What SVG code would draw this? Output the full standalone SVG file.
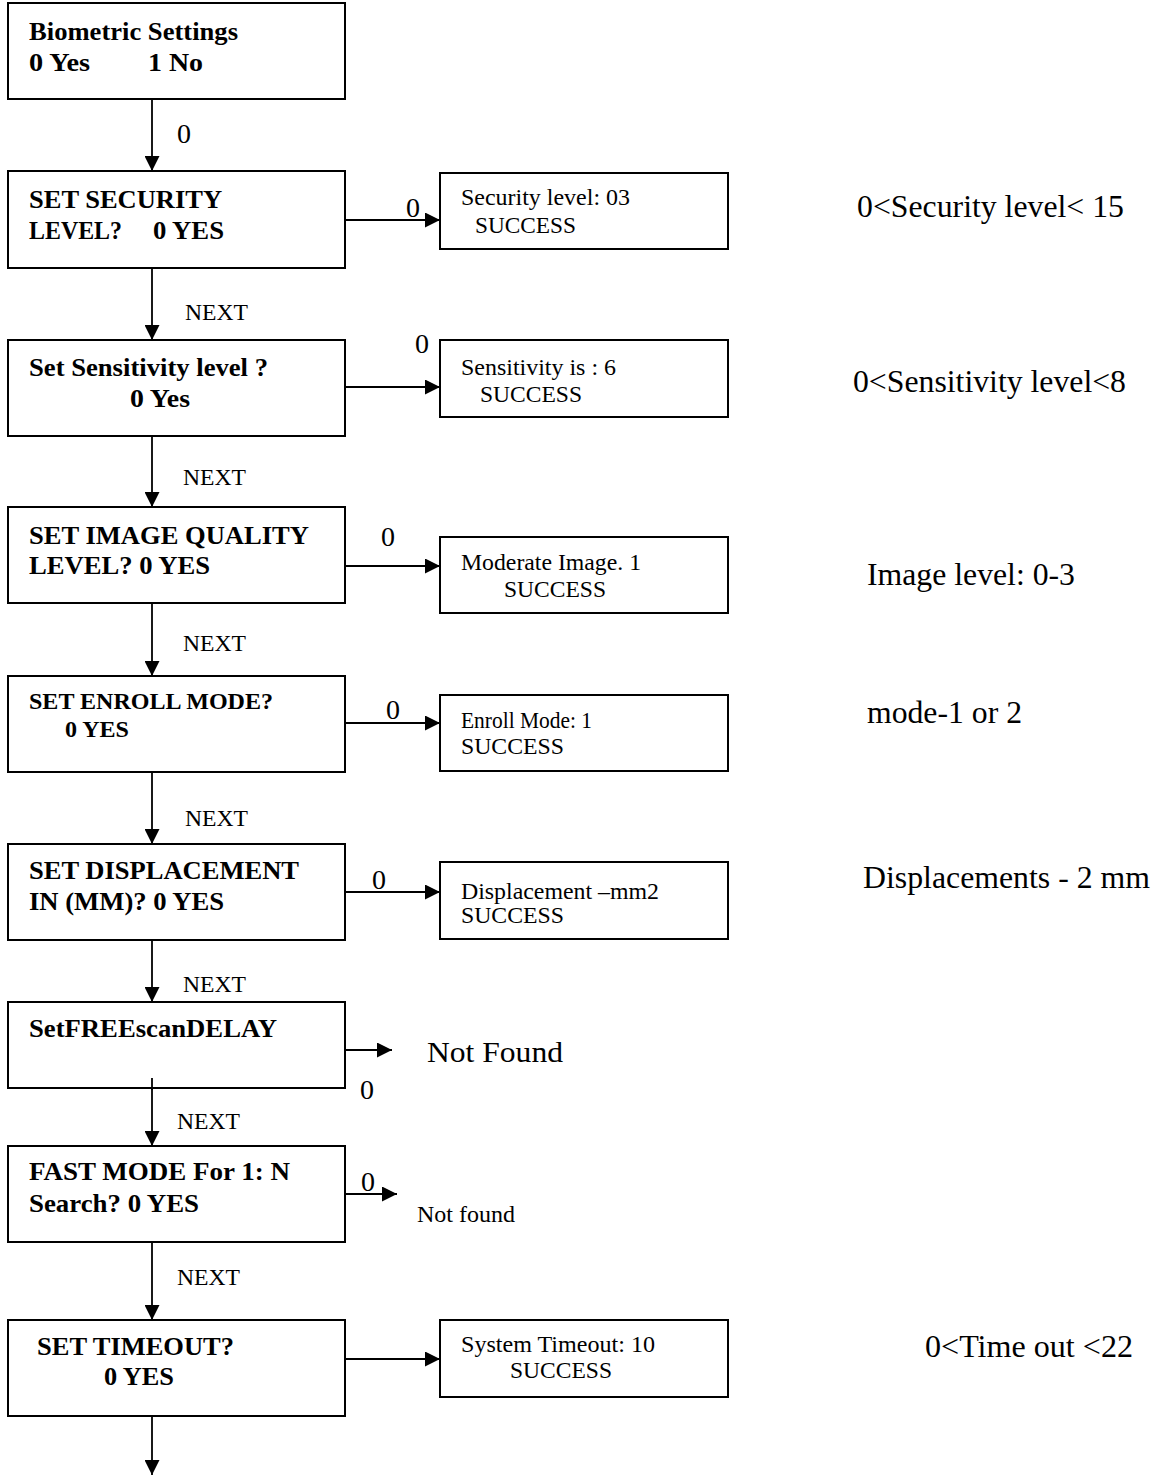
<svg xmlns="http://www.w3.org/2000/svg" width="1159" height="1477" viewBox="0 0 1159 1477">
<style>
text{font-family:"Liberation Serif","Times New Roman",serif;fill:#000}
.b{font-weight:bold;font-size:26px}
.b2{font-weight:bold;font-size:24px}
.r{font-size:24px}
.a{font-size:31px}
.n{font-size:23px}
.z{font-size:28px}
rect{fill:#fff;stroke:#000;stroke-width:2}
.c line{stroke:#000;stroke-width:1.8}
</style>
<defs>
<marker id="ah" viewBox="0 0 10 10" refX="10" refY="5" markerWidth="15" markerHeight="15" markerUnits="userSpaceOnUse" orient="auto">
<path d="M0,0 L10,5 L0,10 Z" fill="#000"/>
</marker>
</defs>
<rect x="0" y="0" width="1159" height="1477" style="stroke:none;fill:#fff"/>
<g class="c" id="connectors">
<line x1="152" y1="99" x2="152" y2="171" marker-end="url(#ah)"/>
<line x1="152" y1="268" x2="152" y2="340" marker-end="url(#ah)"/>
<line x1="152" y1="436" x2="152" y2="507" marker-end="url(#ah)"/>
<line x1="152" y1="603" x2="152" y2="676" marker-end="url(#ah)"/>
<line x1="152" y1="772" x2="152" y2="844" marker-end="url(#ah)"/>
<line x1="152" y1="940" x2="152" y2="1002" marker-end="url(#ah)"/>
<line x1="152" y1="1078" x2="152" y2="1146" marker-end="url(#ah)"/>
<line x1="152" y1="1242" x2="152" y2="1320" marker-end="url(#ah)"/>
<line x1="152" y1="1416" x2="152" y2="1475" marker-end="url(#ah)"/>
<line x1="345" y1="220" x2="440" y2="220" marker-end="url(#ah)"/>
<line x1="345" y1="387" x2="440" y2="387" marker-end="url(#ah)"/>
<line x1="345" y1="566" x2="440" y2="566" marker-end="url(#ah)"/>
<line x1="345" y1="723" x2="440" y2="723" marker-end="url(#ah)"/>
<line x1="345" y1="892" x2="440" y2="892" marker-end="url(#ah)"/>
<line x1="345" y1="1050" x2="392" y2="1050" marker-end="url(#ah)"/>
<line x1="345" y1="1194" x2="397" y2="1194" marker-end="url(#ah)"/>
<line x1="345" y1="1359" x2="440" y2="1359" marker-end="url(#ah)"/>
<text class="z" x="177" y="143">0</text>
<text class="n" x="185" y="320" textLength="63" lengthAdjust="spacingAndGlyphs">NEXT</text>
<text class="n" x="183" y="485" textLength="63" lengthAdjust="spacingAndGlyphs">NEXT</text>
<text class="n" x="183" y="651" textLength="63" lengthAdjust="spacingAndGlyphs">NEXT</text>
<text class="n" x="185" y="826" textLength="63" lengthAdjust="spacingAndGlyphs">NEXT</text>
<text class="n" x="183" y="992" textLength="63" lengthAdjust="spacingAndGlyphs">NEXT</text>
<text class="n" x="177" y="1129" textLength="63" lengthAdjust="spacingAndGlyphs">NEXT</text>
<text class="n" x="177" y="1285" textLength="63" lengthAdjust="spacingAndGlyphs">NEXT</text>
<text class="z" x="406" y="217">0</text>
<text class="z" x="415" y="353">0</text>
<text class="z" x="381" y="546">0</text>
<text class="z" x="386" y="719">0</text>
<text class="z" x="372" y="889">0</text>
<text class="z" x="360" y="1099">0</text>
<text class="z" x="361" y="1191">0</text>
</g>
<g id="n1"><rect x="8" y="3" width="337" height="96"/>
<text class="b" x="29" y="40" textLength="209" lengthAdjust="spacingAndGlyphs">Biometric Settings</text>
<text class="b" x="29" y="71" textLength="61" lengthAdjust="spacingAndGlyphs">0 Yes</text>
<text class="b" x="148" y="71" textLength="55" lengthAdjust="spacingAndGlyphs">1 No</text></g>
<g id="n2"><rect x="8" y="171" width="337" height="97"/>
<text class="b" x="29" y="208" textLength="193" lengthAdjust="spacingAndGlyphs">SET SECURITY</text>
<text class="b" x="29" y="239" textLength="93" lengthAdjust="spacingAndGlyphs">LEVEL?</text>
<text class="b" x="153" y="239" textLength="71" lengthAdjust="spacingAndGlyphs">0 YES</text></g>
<g id="n3"><rect x="8" y="340" width="337" height="96"/>
<text class="b" x="29" y="376" textLength="239" lengthAdjust="spacingAndGlyphs">Set Sensitivity level ?</text>
<text class="b" x="130" y="407" textLength="60" lengthAdjust="spacingAndGlyphs">0 Yes</text></g>
<g id="n4"><rect x="8" y="507" width="337" height="96"/>
<text class="b" x="29" y="544" textLength="280" lengthAdjust="spacingAndGlyphs">SET IMAGE QUALITY</text>
<text class="b" x="29" y="574" textLength="181" lengthAdjust="spacingAndGlyphs">LEVEL? 0 YES</text></g>
<g id="n5"><rect x="8" y="676" width="337" height="96"/>
<text class="b2" x="29" y="709" textLength="244" lengthAdjust="spacingAndGlyphs">SET ENROLL MODE?</text>
<text class="b2" x="65" y="737" textLength="64" lengthAdjust="spacingAndGlyphs">0 YES</text></g>
<g id="n6"><rect x="8" y="844" width="337" height="96"/>
<text class="b" x="29" y="879" textLength="270" lengthAdjust="spacingAndGlyphs">SET DISPLACEMENT</text>
<text class="b" x="29" y="910" textLength="195" lengthAdjust="spacingAndGlyphs">IN (MM)? 0 YES</text></g>
<g id="n7"><rect x="8" y="1002" width="337" height="86"/>
<text class="b" x="29" y="1037" textLength="248" lengthAdjust="spacingAndGlyphs">SetFREEscanDELAY</text></g>
<line x1="152" y1="1078" x2="152" y2="1090" style="stroke:#000;stroke-width:1.8"/>
<g id="n8"><rect x="8" y="1146" width="337" height="96"/>
<text class="b" x="29" y="1180" textLength="261" lengthAdjust="spacingAndGlyphs">FAST MODE For 1: N</text>
<text class="b" x="29" y="1212" textLength="170" lengthAdjust="spacingAndGlyphs">Search? 0 YES</text></g>
<g id="n9"><rect x="8" y="1320" width="337" height="96"/>
<text class="b" x="37" y="1355" textLength="197" lengthAdjust="spacingAndGlyphs">SET TIMEOUT?</text>
<text class="b" x="104" y="1385" textLength="70" lengthAdjust="spacingAndGlyphs">0 YES</text></g>
<g id="r1"><rect x="440" y="173" width="288" height="76"/>
<text class="r" x="461" y="205" textLength="169" lengthAdjust="spacingAndGlyphs">Security level: 03</text>
<text class="r" x="475" y="233" textLength="101" lengthAdjust="spacingAndGlyphs">SUCCESS</text></g>
<g id="r2"><rect x="440" y="340" width="288" height="77"/>
<text class="r" x="461" y="375" textLength="155" lengthAdjust="spacingAndGlyphs">Sensitivity is : 6</text>
<text class="r" x="480" y="402" textLength="102" lengthAdjust="spacingAndGlyphs">SUCCESS</text></g>
<g id="r3"><rect x="440" y="537" width="288" height="76"/>
<text class="r" x="461" y="570" textLength="180" lengthAdjust="spacingAndGlyphs">Moderate Image. 1</text>
<text class="r" x="504" y="597" textLength="102" lengthAdjust="spacingAndGlyphs">SUCCESS</text></g>
<g id="r4"><rect x="440" y="695" width="288" height="76"/>
<text class="r" x="461" y="728" textLength="131" lengthAdjust="spacingAndGlyphs">Enroll Mode: 1</text>
<text class="r" x="461" y="754" textLength="103" lengthAdjust="spacingAndGlyphs">SUCCESS</text></g>
<g id="r5"><rect x="440" y="862" width="288" height="77"/>
<text class="r" x="461" y="899" textLength="198" lengthAdjust="spacingAndGlyphs">Displacement –mm2</text>
<text class="r" x="461" y="923" textLength="103" lengthAdjust="spacingAndGlyphs">SUCCESS</text></g>
<g id="r6"><rect x="440" y="1320" width="288" height="77"/>
<text class="r" x="461" y="1352" textLength="194" lengthAdjust="spacingAndGlyphs">System Timeout: 10</text>
<text class="r" x="510" y="1378" textLength="102" lengthAdjust="spacingAndGlyphs">SUCCESS</text></g>
<g id="nf1"><text class="a" x="427" y="1062" style="font-size:30px" textLength="136" lengthAdjust="spacingAndGlyphs">Not Found</text></g>
<g id="nf2"><text class="n" x="417" y="1222" textLength="98" lengthAdjust="spacingAndGlyphs">Not found</text></g>
<g id="notes">
<text class="a" x="857" y="217" textLength="267" lengthAdjust="spacingAndGlyphs">0&lt;Security level&lt; 15</text>
<text class="a" x="853" y="392" textLength="273" lengthAdjust="spacingAndGlyphs">0&lt;Sensitivity level&lt;8</text>
<text class="a" x="867" y="585" textLength="208" lengthAdjust="spacingAndGlyphs">Image level: 0-3</text>
<text class="a" x="867" y="723" textLength="155" lengthAdjust="spacingAndGlyphs">mode-1 or 2</text>
<text class="a" x="863" y="888" textLength="287" lengthAdjust="spacingAndGlyphs">Displacements - 2 mm</text>
<text class="a" x="925" y="1357" textLength="208" lengthAdjust="spacingAndGlyphs">0&lt;Time out &lt;22</text>
</g>
</svg>
